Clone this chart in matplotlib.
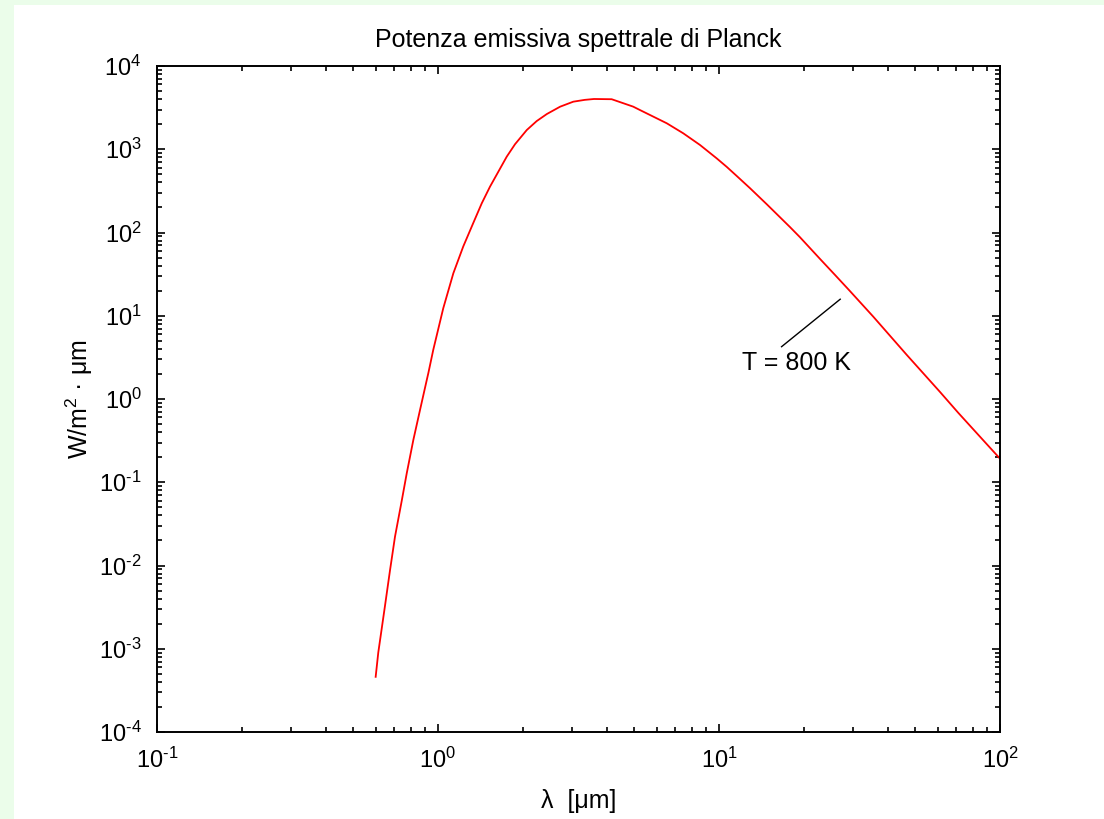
import matplotlib.pyplot as plt
from matplotlib.patches import Rectangle
from matplotlib.ticker import LogLocator, NullFormatter, FuncFormatter
import numpy as np

plt.rcParams['font.family'] = ['Liberation Sans', 'DejaVu Sans']
plt.rcParams['mathtext.fontset'] = 'custom'
plt.rcParams['mathtext.rm'] = 'Liberation Sans'
plt.rcParams['mathtext.it'] = 'Liberation Sans'
plt.rcParams['axes.unicode_minus'] = False

# curva (T = 800 K)
lam = [0.60, 0.613, 0.647, 0.675, 0.703, 0.743, 0.774, 0.817, 0.863, 0.912,
       0.924, 0.962, 1.044, 1.134, 1.23, 1.335, 1.431, 1.531, 1.756, 1.88,
       2.07, 2.245, 2.44, 2.72, 3.03, 3.33, 3.59, 4.15, 4.95, 5.23,
       6.52, 7.46, 8.56, 9.81, 10.65, 11.56, 12.9, 14.8, 17.9, 19.4,
       22.9, 25.9, 29.2, 35.4, 40.6, 46.6, 53.3, 61.1, 71.1, 82.6, 100]
E = [4.6e-4, 9.0e-4, 3.2e-3, 8.8e-3, 0.0222, 0.060, 0.128, 0.322, 0.738, 1.69,
     2.05, 3.9, 12.3, 32.4, 68, 130, 224, 355, 814, 1150,
     1703, 2180, 2650, 3245, 3727, 3920, 4015, 3990, 3250, 2961,
     2050, 1555, 1125, 778, 615, 478, 340, 218, 116, 88,
     48, 30.8, 19.9, 9.75, 5.75, 3.38, 2.04, 1.22, 0.68, 0.39, 0.192]

label_txt = 'T = 800 K'
label_pos = (12.1, 2.7)
line_x = [16.7, 27.0]
line_y = [4.25, 15.8]


def fmt_exp(v, pos):
    e = int(round(np.log10(v)))
    return '$\\mathdefault{10^{\\text{%d}}}$' % e


fig = plt.figure(figsize=(11.04, 8.19), dpi=100)
fig.patch.set_facecolor('#ebfdea')
fig.patches.append(Rectangle((14 / 1104, 0), 1 - 14 / 1104, 1 - 5 / 819,
                             transform=fig.transFigure, facecolor='white',
                             edgecolor='none', zorder=-10))

ax = fig.add_axes([157 / 1104, 1 - 732 / 819, 843 / 1104, 666 / 819])
ax.plot(lam, E, color='red', lw=1.3)
ax.plot(line_x, line_y, color='black', lw=1.0)
ax.text(label_pos[0], label_pos[1], label_txt, fontsize=18, va='center', ha='left')

ax.set_xscale('log')
ax.set_yscale('log')
ax.set_xlim(0.1, 100)
ax.set_ylim(1e-4, 1e4)
ax.yaxis.set_major_locator(LogLocator(base=10, numticks=20))
ax.yaxis.set_minor_locator(LogLocator(base=10, subs=range(2, 10), numticks=20))
ax.xaxis.set_major_formatter(FuncFormatter(fmt_exp))
ax.yaxis.set_major_formatter(FuncFormatter(fmt_exp))
ax.yaxis.set_minor_formatter(NullFormatter())
ax.xaxis.set_minor_formatter(NullFormatter())

ax.tick_params(which='both', direction='in', top=True, right=True, width=1.2)
ax.tick_params(which='major', length=6, labelsize=17, pad=11)
ax.tick_params(which='minor', length=3.5)
for s in ax.spines.values():
    s.set_linewidth(1.4)

ax.set_title('Potenza emissiva spettrale di Planck', fontsize=18, pad=14)
ax.set_xlabel('λ  [μm]', fontsize=18, labelpad=12)
ax.set_ylabel('W/m$^2$ · μm', fontsize=18, labelpad=3)

fig.savefig('out.png', dpi=100, facecolor=fig.get_facecolor())
